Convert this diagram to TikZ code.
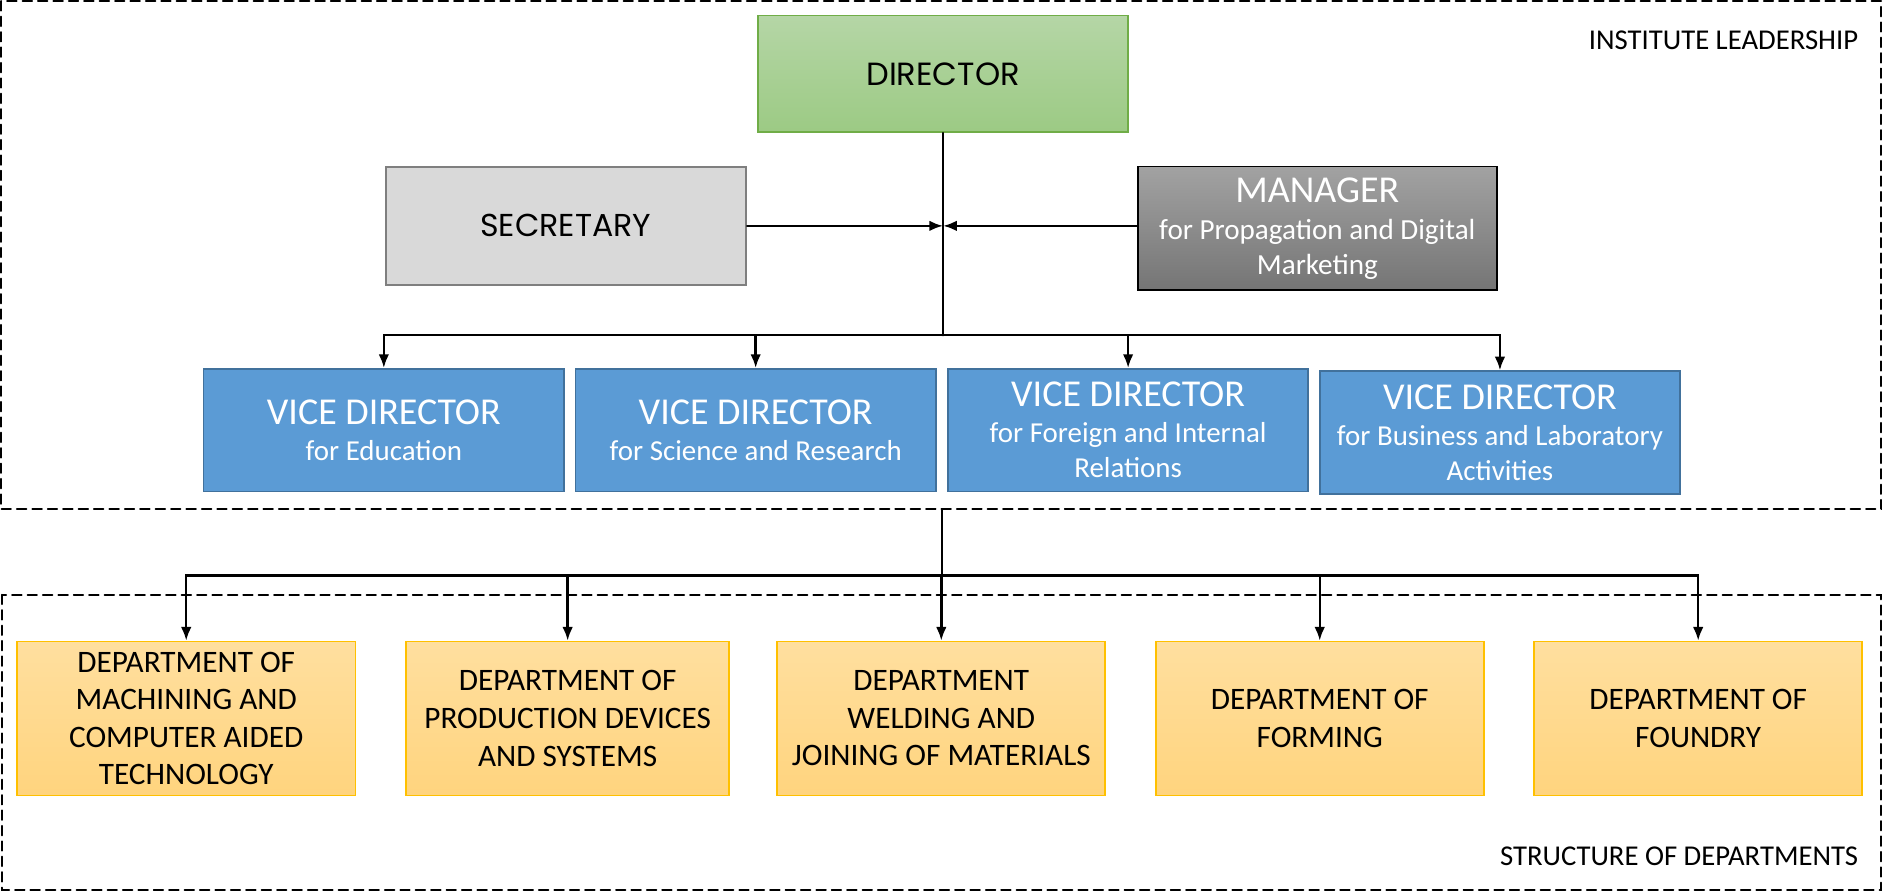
\documentclass[tikz,border=0pt]{standalone}
\usepackage{fontspec}
\setmainfont{Carlito}
\newfontfamily\gothicfont{Poppins}
\usetikzlibrary{arrows.meta}
\usetikzlibrary{positioning}

\definecolor{dirtop}{HTML}{B5D6A6}
\definecolor{dirbot}{HTML}{9CCA84}
\definecolor{dirline}{HTML}{70AD47}
\definecolor{secfill}{HTML}{D9D9D9}
\definecolor{secline}{HTML}{7F7F7F}
\definecolor{mantop}{HTML}{A2A2A2}
\definecolor{manbot}{HTML}{757575}
\definecolor{vdfill}{HTML}{5B9BD5}
\definecolor{vdline}{HTML}{41719C}
\definecolor{deptop}{HTML}{FFDF9F}
\definecolor{depbot}{HTML}{FFD47E}
\definecolor{depline}{HTML}{FFC000}

\def\px{0.02cm}

\tikzset{
    frame/.style={line width=0.9pt, dash pattern=on 4.5pt off 2.8pt},
    tag/.style={font=\fontsize{13.6}{16}\selectfont, inner sep=0pt},
    box/.style={inner sep=0pt, align=center, line width=0.8pt},
    link/.style={line width=1.15pt},
    arr/.style={link, -{Latex[length=6.5pt, width=5pt]}},
}

\begin{document}
\begin{tikzpicture}[x=0.02cm, y=-0.02cm, line cap=round]
    \useasboundingbox (0,0) rectangle (1569,745);

    % frames
    \draw[frame] (1,1) rectangle (1566,424);
    \draw[frame] (2,495) rectangle (1566,741);
    \node[tag, anchor=base east] (lead) at (1547,41) {INSTITUTE LEADERSHIP};
    \node[tag, anchor=base east] (struct) at (1547,720) {STRUCTURE OF DEPARTMENTS};

    % leadership
    \node[box, draw=dirline, top color=dirtop, bottom color=dirbot,
        minimum width=308*\px, minimum height=97*\px,
        font=\gothicfont\fontsize{15.2}{18}\selectfont] (dir) at (785,61.5) {DIRECTOR};
    \node[box, draw=secline, fill=secfill, line width=1pt,
        minimum width=300*\px, minimum height=98*\px,
        font=\gothicfont\fontsize{15}{18}\selectfont] (sec) at (471,188) {SECRETARY};
    \node[box, draw=black, top color=mantop, bottom color=manbot, text=white,
        minimum width=299*\px, minimum height=103*\px,
        font=\fontsize{13.8}{16.3}\selectfont] (man) at (1096.5,190)
        {{\fontsize{18}{20}\selectfont MANAGER}\\[1.5pt]for Propagation and Digital\\Marketing};

    \coordinate (J0) at (785,188);
    \coordinate (J1) at (785,279);

    \foreach \n/\x/\y/\txt in {1/319.5/358/{for Education},
                               2/629/358/{for Science and Research},
                               3/939/358/{for Foreign and Internal\\Relations},
                               4/1248.5/360/{for Business and Laboratory\\Activities}}{
        \node[box, draw=vdline, fill=vdfill, text=white,
            minimum width=300*\px, minimum height=102*\px,
            font=\fontsize{13.7}{16.5}\selectfont] (vd\n) at (\x,\y)
            {{\fontsize{18}{20}\selectfont VICE DIRECTOR}\\[0.5pt]\txt};
        \draw[arr] (J1) -| (vd\n.north);
    };

    \draw[link] (dir.south) -- (J1);
    \draw[arr] (sec.east) -- (J0);
    \draw[arr] (J0 -| man.west) -- (J0);

    % departments
    \coordinate (J2) at (784,424);
    \coordinate (J3) at (784,479);
    \draw[link] (J2) -- (J3);

    \foreach \n/\x/\w/\txt in {1/155/282/{DEPARTMENT OF\\MACHINING AND\\COMPUTER AIDED\\TECHNOLOGY},
                               2/472.5/269/{DEPARTMENT OF\\PRODUCTION DEVICES\\AND SYSTEMS},
                               3/783.5/273/{DEPARTMENT\\WELDING AND\\JOINING OF MATERIALS},
                               4/1098.5/273/{DEPARTMENT OF\\FORMING},
                               5/1413.5/273/{DEPARTMENT OF\\FOUNDRY}}{
        \node[box, draw=depline, top color=deptop, bottom color=depbot,
            minimum width=\w*\px, minimum height=128*\px,
            font=\fontsize{14.8}{17.8}\selectfont] (dep\n) at (\x,598) {\txt};
        \draw[arr] (J3) -| (dep\n.north);
    };
\end{tikzpicture}
\end{document}
